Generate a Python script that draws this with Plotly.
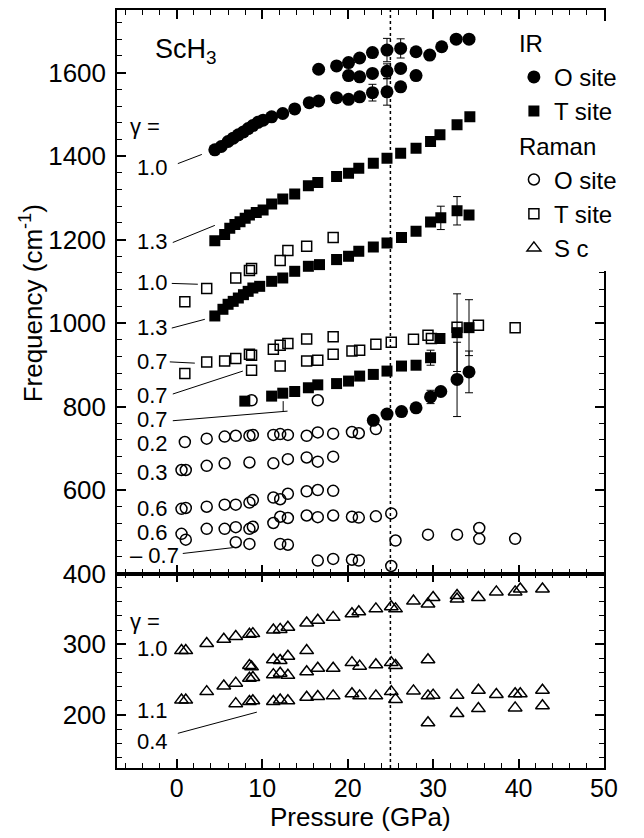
import plotly.graph_objects as go

# ---------------- IR, O site (filled circles) ----------------
ir_o_hi_p = [4.45, 5.2, 6.0, 6.6, 7.2, 7.8, 8.35, 8.9, 9.5, 10.1, 11.1, 12.4, 13.8, 15.5, 16.6,
             18.7, 20.1, 21.4, 22.9, 24.6, 26.2]
ir_o_hi_f = [1415, 1423, 1435, 1443, 1451, 1458, 1466, 1473, 1481, 1486, 1494, 1502, 1513, 1528, 1532,
             1540, 1536, 1542, 1552, 1554, 1566]
ir_o_hi_e = [0] * 18 + [20, 32, 0]

ir_o_mid_p = [20.1, 21.4, 22.9, 24.6, 26.2, 28.0]
ir_o_mid_f = [1593, 1590, 1598, 1603, 1610, 1593]
ir_o_mid_e = [0, 0, 0, 18, 0, 0]

ir_o_top_p = [16.6, 18.7, 20.1, 21.4, 22.9, 24.6, 26.2, 28.0, 29.6, 31.0, 32.7, 34.2]
ir_o_top_f = [1608, 1616, 1624, 1635, 1648, 1654, 1658, 1650, 1642, 1662, 1680, 1680]
ir_o_top_e = [0, 0, 0, 0, 0, 28, 23, 0, 0, 0, 0, 0]

ir_o_low_p = [23.0, 24.6, 26.3, 28.0, 29.7, 30.9, 32.8, 34.2]
ir_o_low_f = [767, 782, 788, 797, 823, 836, 865, 883]
ir_o_low_e = [0, 0, 0, 0, 16, 0, 89, 50]

# ---------------- IR, T site (filled squares) ----------------
ir_t_a_p = [4.45, 5.6, 6.2, 6.8, 7.4, 8.0, 8.5, 9.3, 10.1, 11.1, 12.4, 13.8, 15.4, 16.5, 18.7,
            20.1, 21.3, 23.0, 24.6, 26.2, 28.0, 29.7, 30.8, 32.8, 34.3]
ir_t_a_f = [1197, 1212, 1227, 1236, 1243, 1251, 1259, 1265, 1271, 1285, 1297, 1309, 1329, 1337, 1351,
            1359, 1371, 1383, 1395, 1407, 1419, 1435, 1451, 1475, 1494]
ir_t_a_e = [0] * 25

ir_t_b_p = [4.45, 5.4, 6.0, 6.6, 7.2, 7.8, 8.35, 8.9, 9.7, 11.1, 12.4, 13.8, 15.4, 16.7, 18.7,
            20.1, 21.3, 23.0, 24.6, 26.3, 28.0, 29.7, 30.9, 32.8, 34.2]
ir_t_b_f = [1017, 1033, 1045, 1052, 1060, 1068, 1076, 1084, 1088, 1100, 1108, 1124, 1136, 1140, 1152,
            1160, 1172, 1182, 1192, 1205, 1220, 1242, 1252, 1269, 1259]
ir_t_b_e = [0] * 22 + [28, 34, 0]

ir_t_c_p = [7.96, 11.1, 12.4, 13.8, 15.4, 16.5, 18.7, 20.1, 21.4, 23.0, 24.6, 26.3, 28.0, 29.7, 30.8,
            32.8, 34.2]
ir_t_c_f = [813, 825, 832, 836, 845, 852, 855, 861, 873, 877, 885, 897, 899, 917, 963, 977, 989]
ir_t_c_e = [0] * 13 + [18, 0, 93, 67]

# ---------------- Raman, O site (open circles) ----------------
ram_o_p = [8.75, 16.5,
           0.94, 3.5, 5.6, 6.9, 8.5, 8.9, 11.3, 12.1, 13.0, 15.2, 16.5, 18.3, 20.5, 21.3, 23.3,
           0.55, 1.05, 3.5, 5.6, 8.5, 11.3, 13.0, 15.2, 16.5, 18.3,
           0.55, 1.05, 3.5, 5.6, 6.9, 8.5, 8.9, 11.3, 12.1, 13.0, 15.2, 16.5, 18.3,
           0.55, 1.05, 3.5, 5.6, 6.9, 8.5, 8.9, 11.3, 12.1, 13.0, 15.2, 16.5, 18.3, 20.5, 21.3, 23.3, 25.1,
           25.6, 29.4, 32.8, 35.4, 35.4, 39.6,
           6.9, 8.5, 12.1, 13.0, 16.5, 18.3, 20.5, 21.3, 25.1]
ram_o_f = [815, 815,
           715, 723, 728, 730, 730, 732, 732, 734, 732, 730, 738, 735, 739, 736, 746,
           648, 648, 658, 664, 666, 664, 674, 678, 668, 680,
           555, 557, 560, 565, 565, 570, 576, 582, 578, 591, 597, 600, 598,
           495, 481, 507, 507, 511, 507, 512, 521, 536, 533, 539, 535, 539, 536, 534, 537, 544,
           479, 493, 493, 509, 483, 483,
           475, 471, 471, 469, 431, 435, 433, 431, 418]

# ---------------- Raman, T site (open squares) ----------------
ram_t_p = [0.94, 3.5, 6.9, 8.5, 8.75, 12.1, 13.0, 15.2, 18.3,
           0.94, 3.5, 5.6, 6.9, 8.5, 8.75, 11.3, 12.1, 13.0, 15.2, 18.3,
           8.75, 12.1, 15.2, 16.5, 18.3, 20.5, 21.4, 23.3, 25.1, 27.7, 29.4, 29.8, 32.8, 35.3, 39.6]
ram_t_f = [1051, 1083, 1108, 1126, 1131, 1150, 1174, 1184, 1205,
           879, 907, 909, 915, 925, 923, 937, 947, 951, 962, 967,
           887, 897, 909, 911, 925, 933, 935, 949, 954, 961, 971, 963, 990, 995, 989]

# ---------------- Raman, Sc (open triangles) ----------------
sc_p = [0.55, 1.05, 3.5, 5.5, 6.9, 8.5, 8.9, 11.3, 12.1, 13.0, 15.2, 16.5, 18.3, 20.5, 21.3, 23.3,
        25.1, 25.6, 27.7, 29.4, 30.0, 32.8, 32.8, 35.3, 37.4, 39.6, 40.2, 42.8,
        8.5, 8.75, 11.3, 12.1, 13.0, 15.2, 29.4,
        0.55, 1.05, 3.5, 5.5, 6.9, 8.5, 8.9, 11.3, 12.1, 13.0, 15.2, 16.5, 18.3, 20.5, 21.4, 23.3,
        25.1, 25.6,
        6.9, 8.5, 8.9, 11.3, 12.1, 13.0, 15.2, 16.5, 18.3, 20.5, 21.4, 23.3, 25.1, 25.6, 27.7, 29.4,
        30.0, 32.8, 35.3, 37.4, 39.6, 40.2, 42.8,
        29.4, 32.8, 35.3, 39.6, 42.8]
sc_f = [291, 291, 301, 307, 311, 314, 315, 320, 321, 324, 330, 334, 338, 343, 346, 350,
        353, 350, 361, 357, 366, 369, 364, 366, 374, 374, 378, 378,
        270, 268, 278, 277, 283, 291, 278,
        221, 221, 233, 241, 245, 252, 253, 257, 259, 256, 261, 266, 266, 274, 269, 271,
        274, 270,
        216, 219, 220, 219, 221, 220, 225, 226, 227, 230, 227, 227, 233, 222, 234, 227,
        228, 228, 235, 229, 230, 230, 235,
        189, 202, 209, 210, 213]

# ---------------- mode-Grüneisen labels ----------------
gamma_top_text = ["γ =", "1.0", "1.3", "1.0", "1.3", "0.7", "0.7", "0.7", "0.2", "0.3", "0.6", "0.6", "– 0.7"]
gamma_top_x = [-5.74, -4.92, -4.92, -4.92, -4.92, -4.92, -4.92, -4.92, -4.92, -4.92, -4.92, -4.92, -5.74]
gamma_top_y = [1470, 1372, 1196, 1098, 990, 907, 827, 768, 712, 641, 555, 498, 443]
gamma_bot_text = ["γ =", "1.0", "1.1", "0.4"]
gamma_bot_x = [-5.74, -4.92, -4.92, -4.92]
gamma_bot_y = [332, 294, 207, 163]

# leader segments: (x0, y0, x1, y1)
leaders_top = [(0.12, 1382, 2.93, 1404), (-0.47, 1193, 4.45, 1234), (-0.59, 1095, 2.46, 1093),
               (-0.59, 988, 3.28, 1009), (-0.82, 907, 2.11, 904), (-0.47, 830, 7.73, 885),
               (-0.47, 766, 12.96, 789), (12.45, 789, 12.45, 813), (0.70, 448, 6.56, 462)]
leaders_bot = [(0.12, 174, 9.37, 204)]

FONT = "Liberation Sans, Arial, Helvetica, sans-serif"


def cat(*lists):
    out = []
    for l in lists:
        out += l
    return out


err_style = dict(type="data", color="black", thickness=1, width=4, visible=True)

fig = go.Figure()

fig.add_trace(go.Scatter(
    x=cat(ir_o_hi_p, ir_o_mid_p, ir_o_top_p, ir_o_low_p),
    y=cat(ir_o_hi_f, ir_o_mid_f, ir_o_top_f, ir_o_low_f),
    error_y=dict(array=cat(ir_o_hi_e, ir_o_mid_e, ir_o_top_e, ir_o_low_e), **err_style),
    mode="markers", name="O site", legendgroup="IR",
    legendgrouptitle=dict(text="IR", font=dict(size=24, family=FONT, color="black")),
    marker=dict(symbol="circle", size=13, color="black", line=dict(width=0)),
    xaxis="x", yaxis="y"))

fig.add_trace(go.Scatter(
    x=cat(ir_t_a_p, ir_t_b_p, ir_t_c_p),
    y=cat(ir_t_a_f, ir_t_b_f, ir_t_c_f),
    error_y=dict(array=cat(ir_t_a_e, ir_t_b_e, ir_t_c_e), **err_style),
    mode="markers", name="T site", legendgroup="IR",
    marker=dict(symbol="square", size=11, color="black", line=dict(width=0)),
    xaxis="x", yaxis="y"))

fig.add_trace(go.Scatter(
    x=ram_o_p, y=ram_o_f, mode="markers", name="O site", legendgroup="Raman",
    legendgrouptitle=dict(text="Raman", font=dict(size=24, family=FONT, color="black")),
    marker=dict(symbol="circle-open", size=11, color="black", line=dict(width=1.5)),
    xaxis="x", yaxis="y"))

fig.add_trace(go.Scatter(
    x=ram_t_p, y=ram_t_f, mode="markers", name="T site", legendgroup="Raman",
    marker=dict(symbol="square-open", size=10, color="black", line=dict(width=1.5)),
    xaxis="x", yaxis="y"))

fig.add_trace(go.Scatter(
    x=sc_p, y=sc_f, mode="markers", name="S c", legendgroup="Raman",
    marker=dict(symbol="triangle-up-open", size=12, color="black", line=dict(width=1.5)),
    xaxis="x2", yaxis="y2"))

# ---------------- axes ----------------
SPLIT = 195 / 760
tickfont = dict(size=26, family=FONT, color="black")
base = dict(showline=True, linecolor="black", linewidth=1.5, mirror="allticks",
            ticks="inside", ticklen=9, tickwidth=1.5, tickcolor="black",
            showgrid=False, zeroline=False, tickfont=tickfont)


def minor(dt, t0=0):
    return dict(ticks="inside", ticklen=5, tickwidth=1.2, tickcolor="black",
                dtick=dt, tick0=t0, showgrid=False)


fig.update_layout(
    xaxis=dict(**base, domain=[0, 1], anchor="y", range=[-7, 50], dtick=10, tick0=0,
               minor=minor(2), showticklabels=False, matches="x2"),
    yaxis=dict(**base, domain=[SPLIT, 1], anchor="x", range=[400, 1750], dtick=200, tick0=0,
               minor=minor(40), ticklabelstandoff=4),
    xaxis2=dict(**base, domain=[0, 1], anchor="y2", range=[-7, 50], dtick=10, tick0=0,
                minor=minor(2), ticklabelstandoff=-3),
    yaxis2=dict(**base, domain=[0, SPLIT], anchor="x2", range=[125, 400],
                tickmode="array", tickvals=[200, 300], minor=minor(20), ticklabelstandoff=4),
)
fig.update_xaxes(tickfont=dict(size=25, family=FONT, color="black"), selector=dict(anchor="y2"))

# ---------------- text ----------------
ann = []
for t, x, y in zip(gamma_top_text, gamma_top_x, gamma_top_y):
    ann.append(dict(text=t, x=x, y=y, xref="x", yref="y", xanchor="left", yanchor="middle",
                    showarrow=False, font=dict(size=22, family=FONT, color="black")))
for t, x, y in zip(gamma_bot_text, gamma_bot_x, gamma_bot_y):
    ann.append(dict(text=t, x=x, y=y, xref="x2", yref="y2", xanchor="left", yanchor="middle",
                    showarrow=False, font=dict(size=22, family=FONT, color="black")))
ann.append(dict(text="ScH<sub>3</sub>", x=-2.8, y=1652, xref="x", yref="y", xanchor="left",
                yanchor="middle", showarrow=False, font=dict(size=27, family=FONT, color="black")))
ann.append(dict(text="Frequency (cm<sup>-1</sup>)", x=-0.1766, y=0.613, xref="paper", yref="paper",
                xanchor="center", yanchor="middle", textangle=-90, showarrow=False,
                font=dict(size=26, family=FONT, color="black")))
ann.append(dict(text="Pressure (GPa)", x=0.5, y=-0.064, xref="paper", yref="paper",
                xanchor="center", yanchor="middle", showarrow=False,
                font=dict(size=26, family=FONT, color="black")))

shapes = []
for x0, y0, x1, y1 in leaders_top:
    shapes.append(dict(type="line", xref="x", yref="y", x0=x0, y0=y0, x1=x1, y1=y1,
                       line=dict(color="black", width=1)))
for x0, y0, x1, y1 in leaders_bot:
    shapes.append(dict(type="line", xref="x2", yref="y2", x0=x0, y0=y0, x1=x1, y1=y1,
                       line=dict(color="black", width=1)))
# pressure of the transition
shapes.append(dict(type="line", xref="x", yref="paper", x0=25, x1=25, y0=0, y1=1,
                   line=dict(color="black", width=1.5, dash="dot"), layer="below"))

fig.update_layout(
    width=644, height=838,
    margin=dict(l=117, r=40, t=8, b=70),
    paper_bgcolor="white", plot_bgcolor="rgba(0,0,0,0)",
    font=dict(family=FONT, color="black"),
    annotations=ann, shapes=shapes,
    legend=dict(x=0.815, y=0.986, xanchor="left", yanchor="top", bgcolor="white",
                borderwidth=0, font=dict(size=24, family=FONT, color="black"),
                tracegroupgap=0, traceorder="grouped", itemsizing="trace"),
    showlegend=True,
)

fig.write_html("out.html")
